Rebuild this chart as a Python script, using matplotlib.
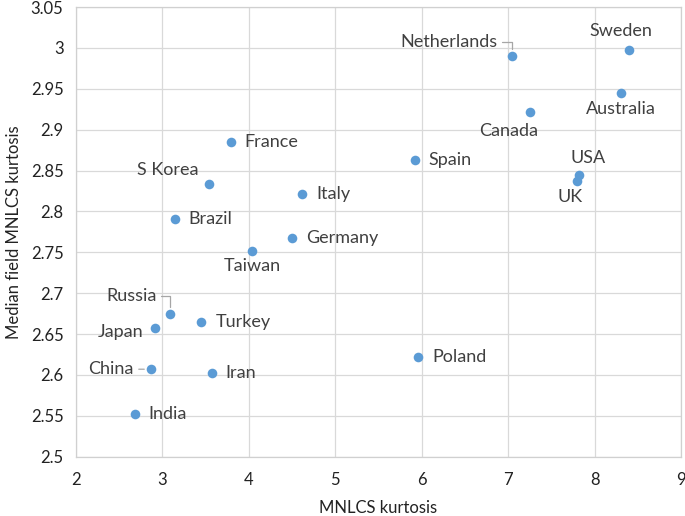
import matplotlib
matplotlib.use("Agg")
import matplotlib.pyplot as plt

# data
countries = ["France", "S Korea", "Italy", "Brazil", "Germany", "Taiwan",
             "Netherlands", "Sweden", "Australia", "Canada", "Spain", "USA",
             "UK", "Russia", "Turkey", "Japan", "China", "Iran", "India", "Poland"]
mnlcs_kurtosis = [3.79, 3.54, 4.62, 3.14, 4.50, 4.04,
                  7.04, 8.40, 8.31, 7.25, 5.92, 7.82,
                  7.80, 3.09, 3.45, 2.91, 2.87, 3.57, 2.68, 5.96]
median_field_kurtosis = [2.885, 2.833, 2.821, 2.791, 2.768, 2.751,
                         2.990, 2.997, 2.945, 2.921, 2.863, 2.845,
                         2.837, 2.674, 2.665, 2.658, 2.607, 2.602, 2.552, 2.622]

# label placement (pixel offsets, alignment, leader line)
label_pos = {
    "France": (14, 0, "left", None),
    "S Korea": (-11, 14, "right", None),
    "Italy": (14, 0, "left", None),
    "Brazil": (14, 0, "left", None),
    "Germany": (14, 0, "left", None),
    "Taiwan": (0, -15, "center", None),
    "Netherlands": (-14, 14, "right", "angle"),
    "Sweden": (-8, 19, "center", None),
    "Australia": (0, -16, "center", None),
    "Canada": (-21, -19, "center", None),
    "Spain": (14, 0, "left", None),
    "USA": (9, 17, "center", None),
    "UK": (-7, -16, "center", None),
    "Russia": (-13, 18, "right", "angle"),
    "Turkey": (14, 0, "left", None),
    "Japan": (-11, -4, "right", None),
    "China": (-18, 0, "right", "straight"),
    "Iran": (14, 0, "left", None),
    "India": (14, 0, "left", None),
    "Poland": (14, 0, "left", None),
}

plt.rcParams["font.family"] = ["Lato", "DejaVu Sans"]

fig = plt.figure(figsize=(6.85, 5.16), dpi=100)
ax = fig.add_axes([76 / 685, 1 - 456.7 / 516, (681 - 76) / 685, (456.7 - 7) / 516])

ax.scatter(mnlcs_kurtosis, median_field_kurtosis, s=48, color="#5B9BD5", zorder=3,
           linewidths=0)

for name, x, y in zip(countries, mnlcs_kurtosis, median_field_kurtosis):
    dx, dy, ha, leader = label_pos[name]
    props = None
    if leader == "angle":
        props = dict(arrowstyle="-", color="#a6a6a6", lw=0.9, shrinkA=1, shrinkB=5,
                     relpos=(1, 0.5), connectionstyle="angle,angleA=0,angleB=90,rad=0")
    elif leader == "straight":
        props = dict(arrowstyle="-", color="#a6a6a6", lw=0.9, shrinkA=2, shrinkB=5,
                     relpos=(1, 0.5))
    ax.annotate(name, (x, y), xytext=(dx, dy), textcoords="offset pixels",
                ha=ha, va="center", fontsize=13, color="#404040",
                arrowprops=props, zorder=4)

ax.set_xlim(2, 9)
ax.set_ylim(2.5, 3.05)
ax.set_xticks(range(2, 10))
ax.set_yticks([2.5, 2.55, 2.6, 2.65, 2.7, 2.75, 2.8, 2.85, 2.9, 2.95, 3.0, 3.05])
ax.set_yticklabels(["2.5", "2.55", "2.6", "2.65", "2.7", "2.75", "2.8", "2.85",
                    "2.9", "2.95", "3", "3.05"])
ax.tick_params(length=0, labelsize=12, labelcolor="#222222")
ax.tick_params(axis="x", pad=11)
ax.tick_params(axis="y", pad=9)
ax.grid(True, color="#d9d9d9", lw=0.9)
ax.set_axisbelow(True)
for sp in ax.spines.values():
    sp.set_color("#d0d0d0")
    sp.set_linewidth(0.9)

fig.text(378 / 685, 8 / 516, "MNLCS kurtosis", fontsize=12, color="#222222",
         ha="center", va="center")
ax.set_ylabel("Median field MNLCS kurtosis", fontsize=12, color="#222222", labelpad=6)

fig.savefig("out.png", dpi=100)
